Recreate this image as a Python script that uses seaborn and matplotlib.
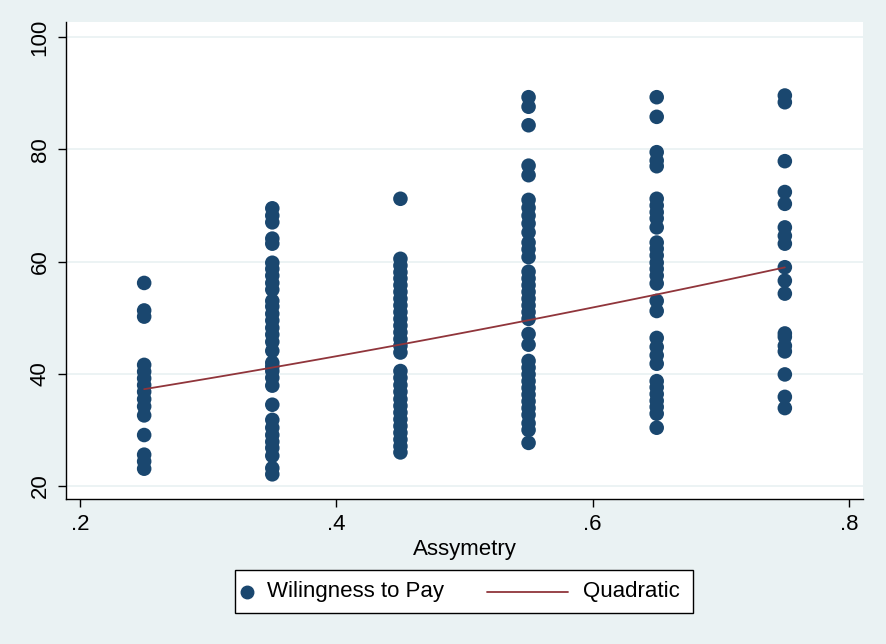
import numpy as np
import pandas as pd
import matplotlib
matplotlib.use("Agg")
import matplotlib.pyplot as plt
import seaborn as sns
from matplotlib.lines import Line2D
from matplotlib.patches import Rectangle

# ---- data ----
asym_levels = [0.25, 0.35, 0.45, 0.55, 0.65, 0.75]
wtp_025 = [56.2, 51.3, 50.2, 41.6, 40.4, 39.2, 38.0, 36.8, 35.5, 34.2, 32.6, 29.1, 25.6, 24.4, 23.1]
wtp_035 = [69.5, 68.2, 67.0, 64.1, 63.2, 59.8, 58.7, 57.5, 56.2, 55.0, 53.0, 52.0, 50.7, 49.5,
           48.2, 47.0, 45.7, 44.1, 42.0, 41.3, 40.5, 39.3, 37.9, 34.5, 31.8, 30.4, 29.1, 27.9,
           26.8, 25.4, 23.2, 22.1]
wtp_045 = [71.2, 60.5, 59.3, 58.1, 57.0, 55.8, 54.6, 53.4, 52.2, 51.0, 49.8, 48.6, 47.4, 46.2,
           45.0, 43.8, 40.5, 39.3, 38.0, 36.8, 35.5, 34.3, 33.1, 31.9, 30.7, 29.5, 28.3, 27.1, 26.0]
wtp_055 = [89.3, 87.6, 84.3, 77.1, 75.4, 71.0, 69.6, 68.2, 66.8, 65.2, 63.4, 62.2, 60.8, 58.2,
           57.0, 55.8, 54.6, 53.4, 52.2, 51.0, 49.8, 47.1, 45.2, 42.3, 41.1, 39.9, 38.7, 37.5,
           36.3, 35.1, 33.9, 32.7, 31.2, 30.0, 27.7]
wtp_065 = [89.3, 85.8, 79.5, 78.0, 77.0, 71.2, 70.0, 68.8, 67.7, 66.1, 63.4, 62.3, 61.1, 59.8,
           58.7, 57.5, 56.1, 53.0, 51.2, 46.4, 44.8, 43.3, 41.8, 38.7, 37.6, 36.4, 35.2, 34.1,
           32.9, 30.4]
wtp_075 = [89.6, 88.4, 77.9, 72.4, 70.3, 66.1, 64.6, 63.2, 59.0, 56.6, 54.3, 47.2, 46.6, 45.0,
           44.0, 39.9, 35.9, 33.9]
# quadratic fit line, at each asymmetry level
fit_values = [37.3, 41.1, 45.2, 49.5, 54.3, 58.9]
x_ticks = [0.2, 0.4, 0.6, 0.8]
x_tick_labels = [".2", ".4", ".6", ".8"]
y_ticks = [20, 40, 60, 80, 100]
legend_labels = ["Wilingness to Pay", "Quadratic"]

cols = [wtp_025, wtp_035, wtp_045, wtp_055, wtp_065, wtp_075]
df = pd.DataFrame({
    "Assymetry": np.concatenate([[a] * len(c) for a, c in zip(asym_levels, cols)]),
    "WTP": np.concatenate(cols),
})

# smooth quadratic through the read fit values
coef = np.polyfit(asym_levels, fit_values, 2)
xfit = np.linspace(min(asym_levels), max(asym_levels), 100)
fit_df = pd.DataFrame({"Assymetry": xfit, "Fit": np.polyval(coef, xfit)})

BG = "#EAF2F3"
DOT = "#1A476F"
LINE = "#90353B"
W, H = 886, 644

sns.set_style("white")
plt.rcParams["font.family"] = ["Liberation Sans", "DejaVu Sans"]
plt.rcParams["text.color"] = "black"
plt.rcParams["axes.labelcolor"] = "black"
plt.rcParams["xtick.color"] = "black"
plt.rcParams["ytick.color"] = "black"

fig = plt.figure(figsize=(W / 100, H / 100), dpi=100, facecolor=BG)
ax = fig.add_axes([66 / W, 1 - 499 / H, (863 - 66) / W, (499 - 22) / H])
ax.set_facecolor("white")

sns.scatterplot(data=df, x="Assymetry", y="WTP", ax=ax, color=DOT, s=110,
                edgecolor="none", linewidth=0, zorder=3, legend=False)
sns.lineplot(data=fit_df, x="Assymetry", y="Fit", ax=ax, color=LINE, linewidth=1.3,
             zorder=4, legend=False)

ax.set_xlim(0.189, 0.811)
ax.set_ylim(17.7, 102.7)
ax.set_xticks(x_ticks)
ax.set_xticklabels(x_tick_labels, fontsize=16, color="black")
ax.set_yticks(y_ticks)
ax.set_yticklabels([str(v) for v in y_ticks], fontsize=16, rotation=90, va="center",
                   color="black")
ax.tick_params(axis="both", direction="out", length=6, width=1, color="black",
               left=True, bottom=True, pad=5)
ax.set_xlabel("Assymetry", fontsize=16, labelpad=3, color="black")
ax.set_ylabel("")
ax.yaxis.grid(True, color=BG, linewidth=1.3)
ax.xaxis.grid(False)
ax.set_axisbelow(True)
for side in ["top", "right"]:
    ax.spines[side].set_visible(False)
for side in ["left", "bottom"]:
    ax.spines[side].set_color("black")
    ax.spines[side].set_linewidth(1)

# Stata-style legend box below the plot
def fx(px):
    return px / W

def fy(py):
    return 1 - py / H

fig.patches.append(Rectangle((fx(235), fy(613)), fx(693) - fx(235), fy(570) - fy(613),
                             transform=fig.transFigure, facecolor="white",
                             edgecolor="black", linewidth=1, zorder=1))
ly = fy(592)
fig.lines.append(Line2D([fx(247)], [ly], marker="o", markersize=9, color=DOT,
                        linestyle="none", transform=fig.transFigure, zorder=2))
fig.text(fx(267), ly, legend_labels[0], fontsize=16, va="center", ha="left", color="black")
fig.lines.append(Line2D([fx(487), fx(568)], [ly, ly], color=LINE, linewidth=1.3,
                        transform=fig.transFigure, zorder=2))
fig.text(fx(583), ly, legend_labels[1], fontsize=16, va="center", ha="left", color="black")

fig.savefig("out.png", dpi=100, facecolor=BG)
